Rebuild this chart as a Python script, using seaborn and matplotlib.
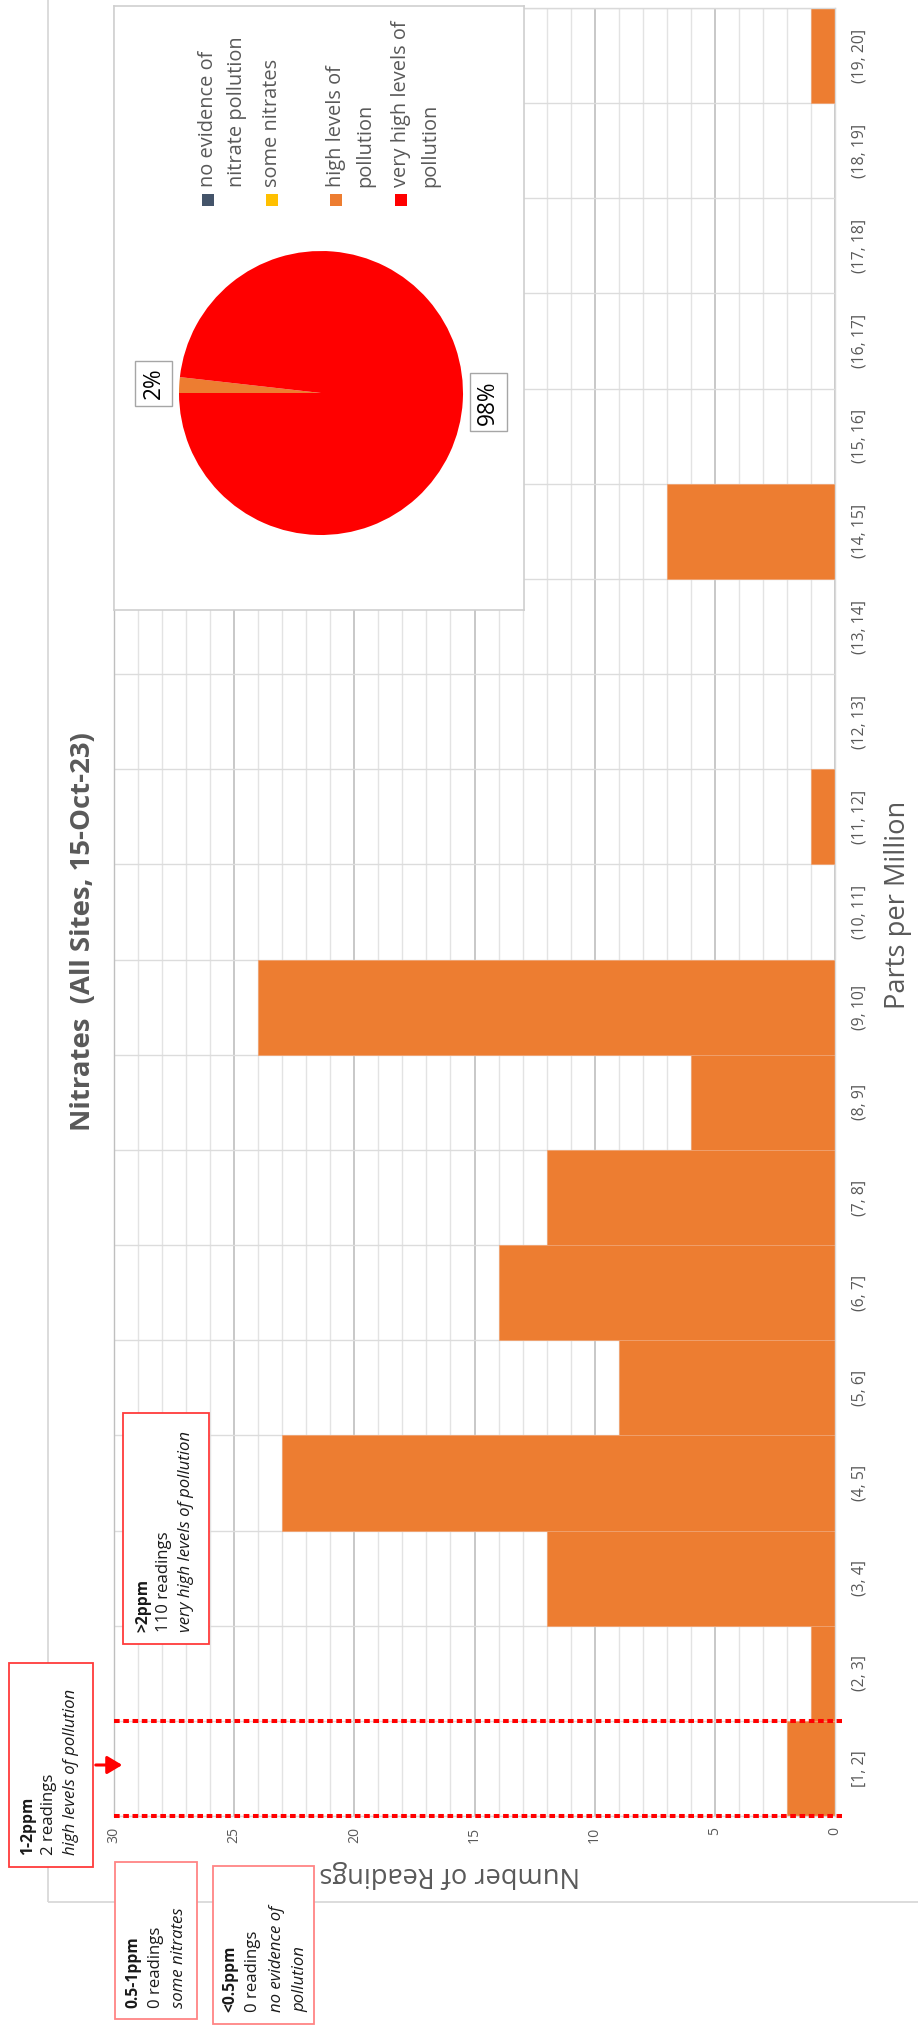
import numpy as np
import pandas as pd
import matplotlib
matplotlib.use('Agg')
import matplotlib.pyplot as plt
import seaborn as sns
from matplotlib.patches import Rectangle, FancyArrowPatch

# ---------------- data ----------------
categories = ['[1, 2]', '(2, 3]', '(3, 4]', '(4, 5]', '(5, 6]', '(6, 7]', '(7, 8]',
              '(8, 9]', '(9, 10]', '(10, 11]', '(11, 12]', '(12, 13]', '(13, 14]',
              '(14, 15]', '(15, 16]', '(16, 17]', '(17, 18]', '(18, 19]', '(19, 20]']
counts = [2, 1, 12, 23, 9, 14, 12, 6, 24, 0, 1, 0, 0, 7, 0, 0, 0, 0, 1]
value_ticks = [0, 5, 10, 15, 20, 25, 30]

pie_labels = ['no evidence of\nnitrate pollution', 'some nitrates',
              'high levels of\npollution', 'very high levels of\npollution']
pie_values = [0, 0, 2, 110]
pie_colors = ['#44546A', '#FFC000', '#ED7D31', '#FF0000']

band_names = ['1-2ppm', '>2ppm', '0.5-1ppm', '<0.5ppm']
band_readings = [2, 110, 0, 0]
band_desc = ['high levels of pollution', 'very high levels of pollution',
             'some nitrates', 'no evidence of\npollution']

title = 'Nitrates  (All Sites, 15-Oct-23)'
xlabel = 'Number of Readings'
ylabel = 'Parts per Million'

# ---------------- setup ----------------
W, H = 918, 2028
sns.set_style('white')
plt.rcParams['font.family'] = ['Open Sans', 'DejaVu Sans']
GREY = '#595959'

fig = plt.figure(figsize=(W / 100, H / 100), dpi=100)
fig.patch.set_facecolor('white')
RENDERER = fig.canvas.get_renderer()


def fx(x):
    return x / W


def fy(y):
    return 1 - y / H


def rect(x0, y0, x1, y1):
    return [x0 / W, 1 - y1 / H, (x1 - x0) / W, (y1 - y0) / H]


def fit_size(txt, target_px, **kw):
    """font size (pt) so that txt, laid out horizontally, is target_px long"""
    t = fig.text(0.5, 0.5, txt, fontsize=10, **kw)
    L = t.get_window_extent(RENDERER).width
    t.remove()
    return 10 * target_px / L


# outer chart-area border
fig.add_artist(Rectangle((fx(48), fy(1902)), fx(960) - fx(48), fy(-20) - fy(1902),
                         transform=fig.transFigure, fill=False,
                         edgecolor='#d9d9d9', lw=1.3, zorder=-1))

# ---------------- histogram (rotated: horizontal bars) ----------------
ax = fig.add_axes(rect(114, 8, 835, 1816))
df = pd.DataFrame({'range': categories, 'count': counts})
order = categories[::-1]
sns.barplot(data=df, x='count', y='range', order=order, orient='h', width=1.0,
            color='#ED7D31', saturation=1, edgecolor='#f0a270', linewidth=0.6,
            ax=ax)
ax.set_axisbelow(True)
ax.set_xlim(30, 0)
ax.set_ylim(len(order) - 0.5, -0.5)
ax.set_xticks(value_ticks)
ax.set_xticks(np.arange(0, 31, 1), minor=True)
ax.set_yticks(np.arange(-0.5, len(order), 1), minor=True)
ax.grid(which='minor', axis='x', color='#e3e3e3', lw=1.0)
ax.grid(which='major', axis='x', color='#bfbfbf', lw=1.2)
ax.grid(which='minor', axis='y', color='#dcdcdc', lw=1.0)
ax.tick_params(which='both', length=0)
ax.yaxis.tick_right()
ax.tick_params(axis='y', pad=12, labelsize=fit_size('(3, 4]', 36), labelcolor=GREY)
ax.tick_params(axis='x', pad=8, labelsize=fit_size('30', 16), labelcolor=GREY)
for lab in ax.get_yticklabels():
    lab.set_rotation(90)
    lab.set_ha('left')
    lab.set_va('center')
for lab in ax.get_xticklabels():
    lab.set_rotation(90)
    lab.set_ha('center')
    lab.set_va('top')
for name, sp in ax.spines.items():
    sp.set_color('#d9d9d9')
    sp.set_linewidth(1.0)
ax.spines['left'].set_color('#bfbfbf')

axis_title_size = fit_size(ylabel, 208)
ax.set_xlabel(xlabel, fontsize=axis_title_size, color=GREY)
ax.xaxis.set_label_coords(0.466, -0.032)
ax.xaxis.label.set_rotation(180)
ax.xaxis.label.set_ha('center')
ax.xaxis.label.set_va('center')
ax.set_ylabel(ylabel, fontsize=axis_title_size, color=GREY)
ax.yaxis.set_label_position('right')
ax.yaxis.set_label_coords(1.0875, 0.504)
ax.yaxis.label.set_rotation(90)
ax.yaxis.label.set_ha('center')
ax.yaxis.label.set_va('center')

# red dotted band markers around the [1, 2] bin
i12 = order.index('[1, 2]')
ax.hlines([i12 - 0.5, i12 + 0.5], xmin=30, xmax=-0.3, colors='#ff0000',
          linewidth=2.9, linestyles=(0, (1.4, 0.9)), clip_on=False, zorder=5)

fig.suptitle(title, x=fx(83), y=fy(932), rotation=90, ha='center',
             va='center', fontweight='bold', color=GREY,
             fontsize=fit_size(title, 398, fontweight='bold'))

# ---------------- annotation boxes ----------------
bold_size = fit_size(band_names[0], 58, fontweight='bold')
plain_size = fit_size(band_desc[1], 200, fontstyle='italic')
boxes = [
    dict(box=(9, 1663, 93, 1867), ec='#ff3b3b', xs=[28, 49, 71], y0=1855),
    dict(box=(123, 1413, 209, 1644), ec='#ff3b3b', xs=[143, 164, 186], y0=1632),
    dict(box=(115, 1862, 197, 2019), ec='#ff8585', xs=[133, 156, 179], y0=2008),
    dict(box=(213, 1866, 314, 2024), ec='#ff8585', xs=[230, 253, 277, 300], y0=2012),
]
for b, name, n, desc in zip(boxes, band_names, band_readings, band_desc):
    x0, y0, x1, y1 = b['box']
    fig.add_artist(Rectangle((fx(x0), fy(y1)), fx(x1) - fx(x0), fy(y0) - fy(y1),
                             transform=fig.transFigure, facecolor='white',
                             edgecolor=b['ec'], lw=1.3, zorder=8))
    lines = [(name, 'bold', 'normal'), (f'{n} readings', 'normal', 'normal')]
    lines += [(d, 'normal', 'italic') for d in desc.split('\n')]
    for xc, (txt, wt, sty) in zip(b['xs'], lines):
        fig.text(fx(xc), fy(b['y0']), txt, rotation=90, rotation_mode='anchor',
                 ha='left', va='center',
                 fontsize=bold_size if wt == 'bold' else plain_size,
                 fontweight=wt, fontstyle=sty, color='#1a1a1a', zorder=9)

fig.add_artist(FancyArrowPatch((fx(93), fy(1765)), (fx(125), fy(1765)),
                               transform=fig.transFigure,
                               arrowstyle='-|>,head_length=0.5,head_width=0.3',
                               mutation_scale=18, color='#ff0000', lw=2.2,
                               zorder=9))

# ---------------- pie inset ----------------
ax_box = fig.add_axes(rect(114, 6, 524, 610), zorder=5)
ax_box.set_facecolor('white')
ax_box.set_xticks([])
ax_box.set_yticks([])
for sp in ax_box.spines.values():
    sp.set_color('#cfcfcf')
    sp.set_linewidth(1.2)
ax_box.set_xlim(114, 524)
ax_box.set_ylim(610, 6)

ax_pie = fig.add_axes(rect(321 - 142, 393 - 142, 321 + 142, 393 + 142), zorder=6)
wedges, _ = ax_pie.pie(pie_values, colors=pie_colors, startangle=180,
                       counterclock=False, radius=1,
                       wedgeprops=dict(linewidth=0))
ax_pie.set_xlim(-1, 1)
ax_pie.set_ylim(-1, 1)
ax_pie.axis('off')
total = sum(pie_values)
pct_size = fit_size('98%', 45)
for w, v in zip(wedges, pie_values):
    if v <= 0:
        continue
    th = np.deg2rad((w.theta1 + w.theta2) / 2)
    ax_pie.text(1.18 * np.cos(th), 1.18 * np.sin(th), f'{round(100 * v / total)}%',
                rotation=90, ha='center', va='center', fontsize=pct_size,
                color='black', clip_on=False, zorder=10,
                bbox=dict(boxstyle='square,pad=0.3', fc='white', ec='#a6a6a6', lw=1))

# legend (rotated)
leg_size = fit_size('very high levels of', 166)
leg_x = [208, 272, 336, 401]
for lx, lab, col in zip(leg_x, pie_labels, pie_colors):
    ax_box.add_patch(Rectangle((lx - 6, 194), 12, 12, facecolor=col,
                               edgecolor='none'))
    for k, line in enumerate(lab.split('\n')):
        ax_box.text(lx + 29 * k, 187, line, rotation=90, rotation_mode='anchor',
                    ha='left', va='center', fontsize=leg_size, color=GREY)

fig.savefig('out.png', dpi=100, facecolor='white')
